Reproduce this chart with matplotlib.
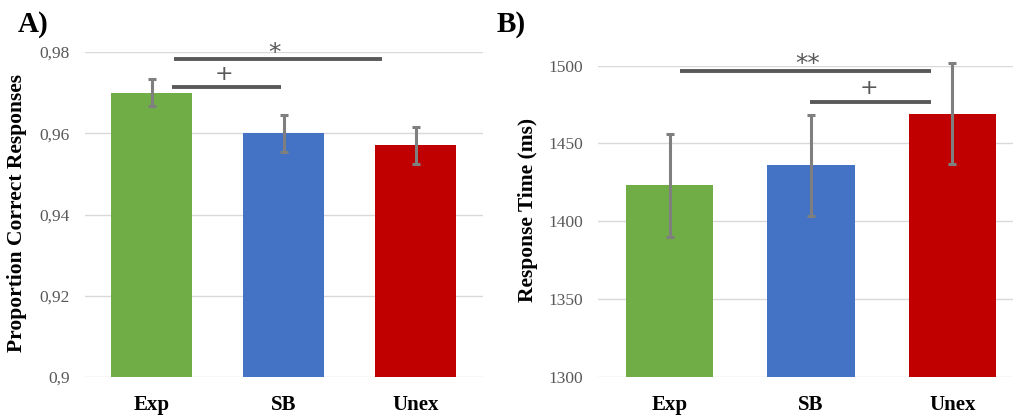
import matplotlib
matplotlib.use("Agg")
import matplotlib.pyplot as plt
import numpy as np

categories = ["Exp", "SB", "Unex"]
colors = ["#70AD47", "#4472C4", "#C00000"]

# Panel A: proportion correct
acc_values = [0.970, 0.960, 0.957]
acc_errors = [0.0033, 0.0045, 0.0046]
acc_ticks = [0.90, 0.92, 0.94, 0.96, 0.98]
acc_ticklabels = ["0,9", "0,92", "0,94", "0,96", "0,98"]

# Panel B: response time
rt_values = [1423, 1436, 1469]
rt_errors = [33, 32.5, 32.5]
rt_ticks = [1300, 1350, 1400, 1450, 1500]
rt_ticklabels = ["1300", "1350", "1400", "1450", "1500"]

serif = "Liberation Serif"
grid_c = "#d9d9d9"
err_c = "#7f7f7f"
brk_c = "#595959"
tick_c = "#595959"

fig = plt.figure(figsize=(10.16, 4.18), dpi=100)
axA = fig.add_axes([85/1016, 1-377/418, 398/1016, (377-52)/418])
axB = fig.add_axes([598/1016, 1-376.7/418, 415/1016, (376.7-65.7)/418])

def style(ax, ticks, labels, ylim, xlim):
    ax.set_ylim(*ylim)
    ax.set_xlim(*xlim)
    ax.set_yticks(ticks)
    ax.set_yticklabels(labels, fontfamily=serif, fontsize=12.5, color=tick_c)
    ax.set_xticks(range(len(categories)))
    ax.set_xticklabels(categories, fontfamily=serif, fontsize=15, fontweight="bold", color="black")
    for s in ax.spines.values():
        s.set_visible(False)
    ax.tick_params(axis="both", length=0)
    ax.tick_params(axis="y", pad=11)
    ax.tick_params(axis="x", pad=13)
    ax.grid(axis="y", color=grid_c, linewidth=1.0)
    ax.set_axisbelow(True)

x = np.arange(len(categories))

style(axA, acc_ticks, acc_ticklabels, (0.90, 0.98), (-0.504, 2.511))
axA.bar(x, acc_values, width=0.614, color=colors, zorder=2)
ebA = axA.errorbar(x, acc_values, yerr=acc_errors, fmt="none", ecolor=err_c,
                   elinewidth=2.2, capsize=3, capthick=2.2, zorder=3)
for art in list(ebA.lines[1]) + list(ebA.lines[2]):
    art.set_clip_on(False)
axA.plot([0.155, 0.98], [0.9714, 0.9714], color=brk_c, lw=2.8, solid_capstyle="butt", clip_on=False, zorder=4)
axA.plot([0.17, 1.746], [0.9783, 0.9783], color=brk_c, lw=2.8, solid_capstyle="butt", clip_on=False, zorder=4)
axA.text(0.55, 0.9745, "+", ha="center", va="center", fontsize=16, color=brk_c, fontfamily="DejaVu Sans")
axA.text(0.935, 0.9797, "*", ha="center", va="center", fontsize=18, color=brk_c, fontfamily="DejaVu Sans", clip_on=False)
axA.set_ylabel("Proportion Correct Responses", fontfamily=serif, fontsize=15.5, fontweight="bold")
axA.yaxis.set_label_coords((27-85)/398, 0.505)

style(axB, rt_ticks, rt_ticklabels, (1300, 1500), (-0.508, 2.43))
axB.bar(x, rt_values, width=0.617, color=colors, zorder=2)
ebB = axB.errorbar(x, rt_values, yerr=rt_errors, fmt="none", ecolor=err_c,
                   elinewidth=2.2, capsize=3, capthick=2.2, zorder=3)
for art in list(ebB.lines[1]) + list(ebB.lines[2]):
    art.set_clip_on(False)
axB.plot([0.07, 1.85], [1496.6, 1496.6], color=brk_c, lw=2.8, solid_capstyle="butt", clip_on=False, zorder=4)
axB.plot([0.995, 1.85], [1476.8, 1476.8], color=brk_c, lw=2.8, solid_capstyle="butt", clip_on=False, zorder=4)
axB.text(1.41, 1485.5, "+", ha="center", va="center", fontsize=16, color=brk_c, fontfamily="DejaVu Sans")
axB.text(0.98, 1501, "**", ha="center", va="center", fontsize=18, color=brk_c, fontfamily="DejaVu Sans", clip_on=False)
axB.set_ylabel("Response Time (ms)", fontfamily=serif, fontsize=15.5, fontweight="bold")
axB.yaxis.set_label_coords((538-598)/415, 0.536)

fig.text(18/1016, 1-24/418, "A)", fontfamily=serif, fontsize=21, fontweight="bold", va="center", ha="left")
fig.text(497/1016, 1-24/418, "B)", fontfamily=serif, fontsize=21, fontweight="bold", va="center", ha="left")

fig.savefig("out.png", dpi=100)
